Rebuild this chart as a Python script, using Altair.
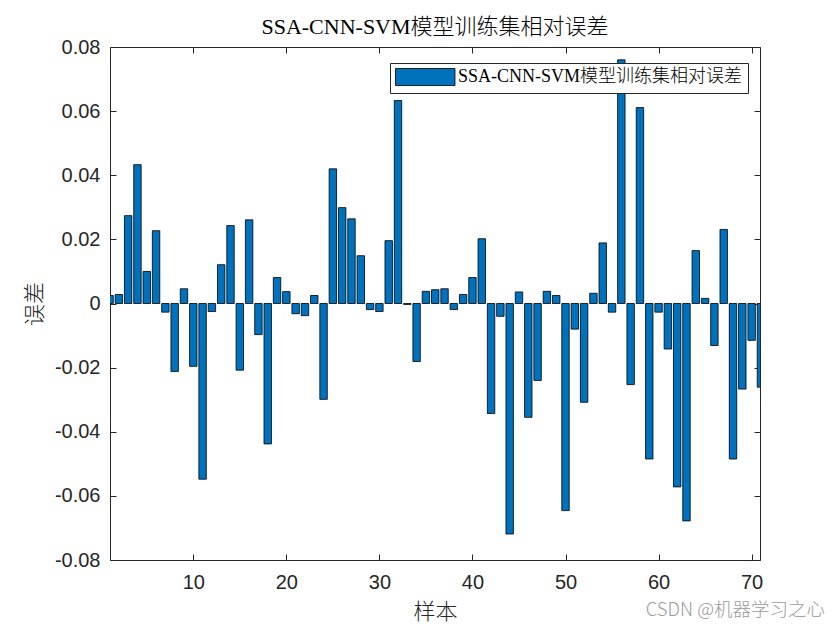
import altair as alt
import pandas as pd

# ---- data ----
samples = list(range(1, 72))
errors = [
    0.0025, 0.0028, 0.0274, 0.0433, 0.0100, 0.0227, -0.0027, -0.0212, 0.0046, -0.0196,
    -0.0548, -0.0025, 0.0121, 0.0243, -0.0208, 0.0261, -0.0097, -0.0438, 0.0081, 0.0037,
    -0.0032, -0.0038, 0.0025, -0.0299, 0.0420, 0.0299, 0.0264, 0.0149, -0.0019, -0.0025,
    0.0196, 0.0633, -0.0003, -0.0181, 0.0038, 0.0043, 0.0046, -0.0019, 0.0028, 0.0081,
    0.0202, -0.0343, -0.0040, -0.0719, 0.0036, -0.0355, -0.0240, 0.0038, 0.0025, -0.0646,
    -0.0080, -0.0308, 0.0032, 0.0189, -0.0027, 0.0760, -0.0253, 0.0611, -0.0485, -0.0027,
    -0.0142, -0.0572, -0.0678, 0.0165, 0.0016, -0.0131, 0.0231, -0.0485, -0.0267, -0.0115,
    -0.0261,
]
series_name = "SSA-CNN-SVM模型训练集相对误差"
chart_title = "SSA-CNN-SVM模型训练集相对误差"
x_title = "样本"
y_title = "误差"
x_ticks = [10, 20, 30, 40, 50, 60, 70]
y_ticks = [-0.08, -0.06, -0.04, -0.02, 0, 0.02, 0.04, 0.06, 0.08]
watermark = ["CSDN @机器学习之心"]

df = pd.DataFrame({"sample": samples, "error": errors, "series": series_name})

W, H = 650, 513
SERIF = "Liberation Serif, Times New Roman, Noto Sans CJK SC"
SANS = "Liberation Sans, Arial, Noto Sans CJK SC"
CJK = "Noto Sans CJK SC"
AX = "#262626"

xs = alt.Scale(domain=[1.05, 70.9], nice=False, zero=False)
ys = alt.Scale(domain=[-0.08, 0.08], nice=False, zero=False)

ylabel_expr = ("datum.value == 0 ? '0' : (datum.value < 0 ? '-' : '') + "
               "format(abs(datum.value), '.2f')")

base = alt.Chart(df)

bars = base.transform_calculate(
    x0="datum.sample - 0.4", x1="datum.sample + 0.4", zero="0"
).mark_bar(stroke="black", strokeWidth=0.8, clip=True, opacity=1).encode(
    x=alt.X("x0:Q", scale=xs, axis=alt.Axis(
        orient="bottom", values=x_ticks, ticks=False, tickSize=0, domain=False, grid=False,
        labelFont=SANS, labelFontSize=20, labelColor=AX, labelPadding=12,
        title=x_title, titleFont=CJK, titleFontSize=22, titleFontWeight=300,
        titleColor=AX, titleX=W / 2, titleY=51, titleBaseline="middle", titleAlign="center")),
    x2="x1:Q",
    y=alt.Y("error:Q", scale=ys, axis=alt.Axis(
        orient="left", values=y_ticks, ticks=False, tickSize=0, domain=False, grid=False,
        labelFont=SANS, labelFontSize=20, labelColor=AX, labelPadding=10, labelExpr=ylabel_expr,
        title=y_title, titleFont=CJK, titleFontSize=22, titleFontWeight=300,
        titleColor=AX, titleX=-76, titleY=H / 2, titleBaseline="middle", titleAlign="center",
        titleAngle=270)),
    y2="zero:Q",
    color=alt.Color("series:N", scale=alt.Scale(range=["#0072BD"]), legend=alt.Legend(
        title=None, orient="none", legendX=280, legendY=16,
        symbolType="M-1,-1H6V1H-1Z", symbolSize=289,
        symbolStrokeColor="black", symbolStrokeWidth=0.8, symbolOpacity=1,
        labelFont=SERIF, labelFontSize=18, labelFontWeight=300, labelColor="black",
        labelOffset=45, labelLimit=600, padding=5, strokeColor=AX, fillColor="white")),
)

# inward ticks: bottom edge (pointing up) and left edge (pointing right)
ticks1 = base.mark_point(opacity=0).encode(
    x=alt.X("sample:Q", scale=xs, axis=alt.Axis(
        orient="top", offset=-H, values=x_ticks, labels=False, domain=False, grid=False,
        tickSize=6, tickColor=AX, tickWidth=1, title=None)),
    y=alt.Y("error:Q", scale=ys, axis=alt.Axis(
        orient="right", offset=-W, values=y_ticks, labels=False, domain=False, grid=False,
        tickSize=6, tickColor=AX, tickWidth=1, title=None)),
)

# inward ticks: top edge (pointing down) and right edge (pointing left)
ticks2 = base.mark_point(opacity=0).encode(
    x=alt.X("sample:Q", scale=xs, axis=alt.Axis(
        orient="bottom", offset=-H, values=x_ticks, labels=False, domain=False, grid=False,
        tickSize=6, tickColor=AX, tickWidth=1, title=None)),
    y=alt.Y("error:Q", scale=ys, axis=alt.Axis(
        orient="left", offset=-W, values=y_ticks, labels=False, domain=False, grid=False,
        tickSize=6, tickColor=AX, tickWidth=1, title=None)),
)

wm = alt.Chart(pd.DataFrame({"t": watermark})).mark_text(
    align="right", baseline="middle", font=CJK, fontSize=18.5, fontWeight=300, color="#9a9a9a"
).encode(x=alt.value(W + 65), y=alt.value(H + 50), text="t:N")

chart = alt.layer(bars, ticks1, ticks2, wm).resolve_scale(
    x="shared", y="shared"
).resolve_axis(
    x="independent", y="independent"
).properties(
    width=W, height=H,
    background="white",
    title=alt.TitleParams(chart_title, font=SERIF, fontSize=22, fontWeight=300,
                          color="black", anchor="middle", offset=-2),
    autosize=alt.AutoSizeParams(type="none"),
    padding={"left": 102, "top": 39, "right": 72, "bottom": 66},
).configure_view(stroke=AX, strokeWidth=1)

chart.save("out.html", embed_options={"renderer": "svg", "actions": False})
